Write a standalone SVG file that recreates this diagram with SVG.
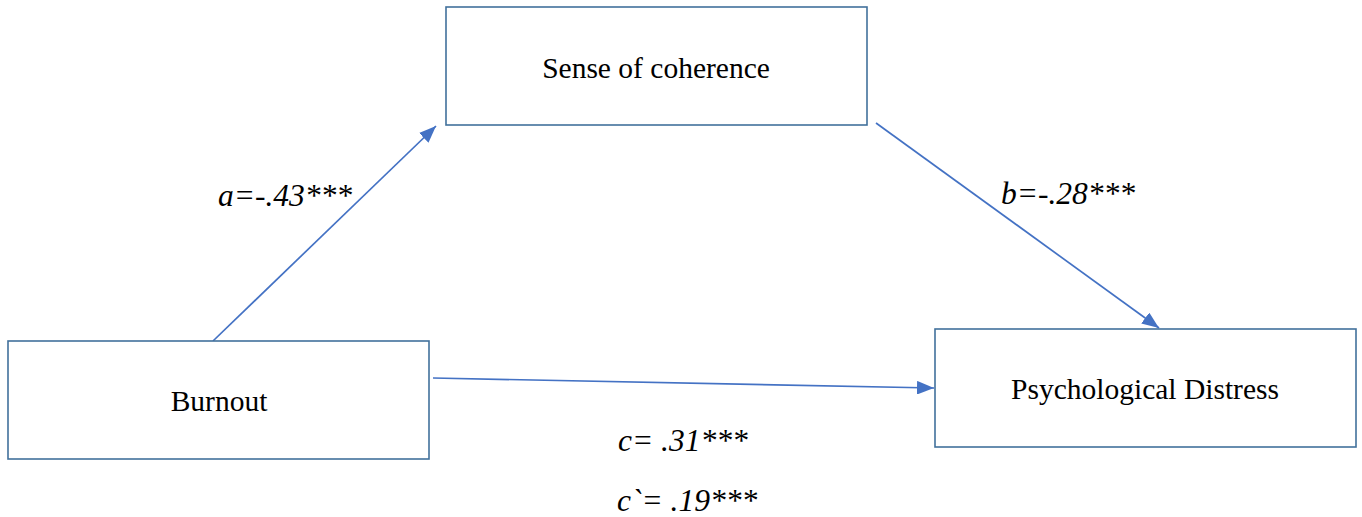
<svg xmlns="http://www.w3.org/2000/svg" width="1362" height="517" viewBox="0 0 1362 517">
  <style>
    .box { fill: #ffffff; stroke: #41719c; stroke-width: 1.6; }
    .label { font-family: "Liberation Serif", "Times New Roman", serif; font-size: 29.5px; fill: #000000; }
    .coef { font-family: "Liberation Serif", "Times New Roman", serif; font-size: 31.5px; font-style: italic; fill: #000000; }
    .link { stroke: #4472c4; stroke-width: 1.7; fill: none; marker-end: url(#arrow); }
  </style>
  <defs>
    <marker id="arrow" markerWidth="10" markerHeight="8" refX="10" refY="4" orient="auto" markerUnits="strokeWidth">
      <path d="M0,0 L10,4 L0,8 Z" fill="#4472c4"/>
    </marker>
  </defs>
  <rect width="1362" height="517" fill="#ffffff"/>

  <g id="connectors">
    <line class="link" x1="213" y1="341" x2="436" y2="126"/>
    <line class="link" x1="876" y1="123" x2="1159" y2="328"/>
    <line class="link" x1="433" y1="378" x2="934" y2="388"/>
  </g>

  <g id="node-soc">
    <rect class="box" x="446" y="7" width="421" height="118"/>
    <text class="label" x="656" y="78" text-anchor="middle">Sense of coherence</text>
  </g>
  <g id="node-burnout">
    <rect class="box" x="8" y="341" width="421" height="118"/>
    <text class="label" x="219" y="411" text-anchor="middle">Burnout</text>
  </g>
  <g id="node-distress">
    <rect class="box" x="935" y="329" width="421" height="118"/>
    <text class="label" x="1145" y="399" text-anchor="middle">Psychological Distress</text>
  </g>

  <g id="coefficients">
    <text class="coef" x="218" y="206">a=-.43***</text>
    <text class="coef" x="1001" y="204">b=-.28***</text>
    <text class="coef" x="618" y="451">c= .31***</text>
    <text class="coef" x="617" y="511">c`= .19***</text>
  </g>
</svg>
